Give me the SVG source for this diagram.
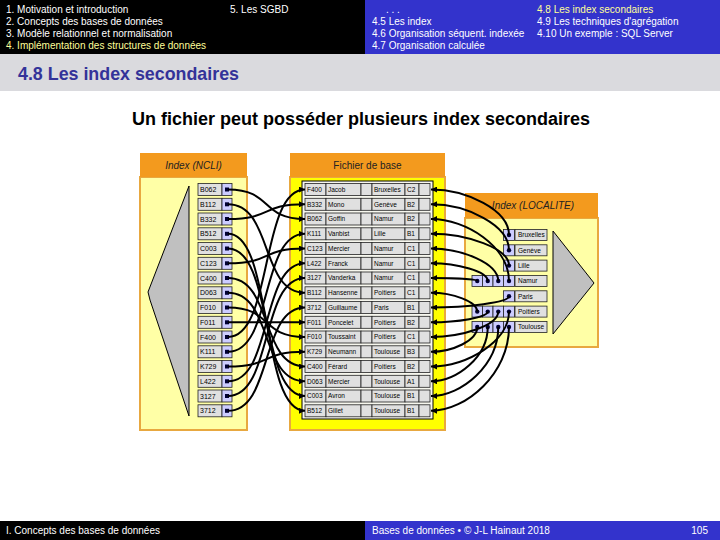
<svg xmlns="http://www.w3.org/2000/svg" xmlns:xlink="http://www.w3.org/1999/xlink" width="720" height="540" viewBox="0 0 720 540">
<style>
.hd{font-family:"Liberation Sans",Arial,sans-serif;font-size:10px;fill:#ffffff}
.hy{fill:#ffff99}
.ttl{font-family:"Liberation Sans Narrow","Liberation Sans",Arial,sans-serif;font-weight:bold}
.ph{font-family:"Liberation Sans",Arial,sans-serif;font-size:10px;fill:#222}
.it{font-style:italic}
.cell{fill:#e0e0e0;stroke:#222;stroke-width:0.8}
.ptr{fill:#ccccff;stroke:#222;stroke-width:0.8}
.tx{font-family:"Liberation Sans",Arial,sans-serif;font-size:6.5px;fill:#000}
.kx{font-family:"Liberation Sans",Arial,sans-serif;font-size:7px;fill:#000}
.con{fill:none;stroke:#000;stroke-width:2}
.dot{fill:#000033}
</style>
<defs>
<marker id="ah" viewBox="0 0 8 8" refX="8" refY="4" markerWidth="6" markerHeight="6" orient="auto" markerUnits="userSpaceOnUse"><path d="M0,0 L8,4 L0,8 z" fill="#000"/></marker>
<g id="rowcells">
<rect class="cell" x="305" y="-6" width="21" height="12"/>
<rect class="cell" x="326" y="-6" width="35" height="12"/>
<rect class="cell" x="361" y="-6" width="11" height="12"/>
<rect class="cell" x="372" y="-6" width="33" height="12"/>
<rect class="cell" x="405" y="-6" width="14" height="12"/>
<rect class="cell" x="419" y="-6" width="11" height="12"/>
</g>
<g id="ncells">
<rect class="cell" x="198" y="-6" width="24" height="12"/>
<rect class="ptr" x="222" y="-6" width="10" height="12"/>
<rect class="dot" x="225" y="-2" width="4" height="4"/>
</g>
<g id="p1"><rect class="ptr" x="503.5" y="-5.5" width="11" height="11"/><circle class="dot" cx="509" cy="0" r="2.2"/></g>
<g id="p4">
<rect class="ptr" x="472" y="-5.5" width="10.5" height="11"/><circle class="dot" cx="477.25" cy="0" r="2.2"/>
<rect class="ptr" x="482.5" y="-5.5" width="10.5" height="11"/><circle class="dot" cx="487.75" cy="0" r="2.2"/>
<rect class="ptr" x="493" y="-5.5" width="10.5" height="11"/><circle class="dot" cx="498.25" cy="0" r="2.2"/>
<rect class="ptr" x="503.5" y="-5.5" width="11" height="11"/><circle class="dot" cx="509" cy="0" r="2.2"/>
</g>
</defs>
<rect width="720" height="540" fill="#ffffff"/>
<g id="header">
<rect x="0" y="0" width="365" height="54" fill="#000"/>
<rect x="365" y="0" width="355" height="54" fill="#3333cc"/>
<text class="hd" x="6" y="13">1. Motivation et introduction</text>
<text class="hd" x="6" y="25">2. Concepts des bases de données</text>
<text class="hd" x="6" y="37">3. Modèle relationnel et normalisation</text>
<text class="hd hy" x="6" y="49">4. Implémentation des structures de données</text>
<text class="hd" x="230" y="13">5. Les SGBD</text>
<text class="hd" x="386" y="13">. . .</text>
<text class="hd" x="372" y="25">4.5 Les index</text>
<text class="hd" x="372" y="37">4.6 Organisation séquent. indexée</text>
<text class="hd" x="372" y="49">4.7 Organisation calculée</text>
<text class="hd hy" x="537" y="13">4.8 Les index secondaires</text>
<text class="hd" x="537" y="25">4.9 Les techniques d'agrégation</text>
<text class="hd" x="537" y="37">4.10 Un exemple : SQL Server</text>
<rect x="0" y="54" width="720" height="37" fill="#dadade"/>
<text class="ttl" x="18" y="80" font-size="19" fill="#333399" textLength="221" lengthAdjust="spacingAndGlyphs">4.8 Les index secondaires</text>
<text class="ttl" x="361" y="125" font-size="18" fill="#000" text-anchor="middle" textLength="458" lengthAdjust="spacingAndGlyphs">Un fichier peut posséder plusieurs index secondaires</text>
</g>
<g id="index-ncli">
<rect x="140" y="177" width="107" height="253" fill="#ffffa6" stroke="#e8a840" stroke-width="2"/>
<rect x="140" y="153" width="107" height="24" fill="#f39a1e"/>
<text class="ph it" x="193.5" y="169" text-anchor="middle">Index (NCLI)</text>
<polygon points="189,186 148,292 150,300 189,416" fill="#c0c0c0" stroke="#000" stroke-width="1"/>
<g transform="translate(0,189.5)"><use xlink:href="#ncells"/><text class="kx" x="200" y="2.5">B062</text></g>
<g transform="translate(0,204.3)"><use xlink:href="#ncells"/><text class="kx" x="200" y="2.5">B112</text></g>
<g transform="translate(0,219)"><use xlink:href="#ncells"/><text class="kx" x="200" y="2.5">B332</text></g>
<g transform="translate(0,233.8)"><use xlink:href="#ncells"/><text class="kx" x="200" y="2.5">B512</text></g>
<g transform="translate(0,248.5)"><use xlink:href="#ncells"/><text class="kx" x="200" y="2.5">C003</text></g>
<g transform="translate(0,263.3)"><use xlink:href="#ncells"/><text class="kx" x="200" y="2.5">C123</text></g>
<g transform="translate(0,278)"><use xlink:href="#ncells"/><text class="kx" x="200" y="2.5">C400</text></g>
<g transform="translate(0,292.8)"><use xlink:href="#ncells"/><text class="kx" x="200" y="2.5">D063</text></g>
<g transform="translate(0,307.5)"><use xlink:href="#ncells"/><text class="kx" x="200" y="2.5">F010</text></g>
<g transform="translate(0,322.3)"><use xlink:href="#ncells"/><text class="kx" x="200" y="2.5">F011</text></g>
<g transform="translate(0,337)"><use xlink:href="#ncells"/><text class="kx" x="200" y="2.5">F400</text></g>
<g transform="translate(0,351.8)"><use xlink:href="#ncells"/><text class="kx" x="200" y="2.5">K111</text></g>
<g transform="translate(0,366.5)"><use xlink:href="#ncells"/><text class="kx" x="200" y="2.5">K729</text></g>
<g transform="translate(0,381.3)"><use xlink:href="#ncells"/><text class="kx" x="200" y="2.5">L422</text></g>
<g transform="translate(0,396)"><use xlink:href="#ncells"/><text class="kx" x="200" y="2.5">3127</text></g>
<g transform="translate(0,410.8)"><use xlink:href="#ncells"/><text class="kx" x="200" y="2.5">3712</text></g>
</g>
<g id="fichier-base">
<rect x="290" y="177" width="155" height="253" fill="#ffff00" stroke="#e8a840" stroke-width="2"/>
<rect x="290" y="153" width="155" height="24" fill="#f39a1e"/>
<text class="ph" x="367.5" y="169" text-anchor="middle">Fichier de base</text>
<rect x="302" y="181" width="131" height="238" fill="#f7f7ee" stroke="#000" stroke-width="1"/>
<g transform="translate(0,189.5)"><use xlink:href="#rowcells"/><text class="tx" x="307" y="2.3">F400</text><text class="tx" x="328" y="2.3">Jacob</text><text class="tx" x="374" y="2.3">Bruxelles</text><text class="tx" x="407" y="2.3">C2</text></g>
<g transform="translate(0,204.3)"><use xlink:href="#rowcells"/><text class="tx" x="307" y="2.3">B332</text><text class="tx" x="328" y="2.3">Mono</text><text class="tx" x="374" y="2.3">Genève</text><text class="tx" x="407" y="2.3">B2</text></g>
<g transform="translate(0,219)"><use xlink:href="#rowcells"/><text class="tx" x="307" y="2.3">B062</text><text class="tx" x="328" y="2.3">Goffin</text><text class="tx" x="374" y="2.3">Namur</text><text class="tx" x="407" y="2.3">B2</text></g>
<g transform="translate(0,233.8)"><use xlink:href="#rowcells"/><text class="tx" x="307" y="2.3">K111</text><text class="tx" x="328" y="2.3">Vanbist</text><text class="tx" x="374" y="2.3">Lille</text><text class="tx" x="407" y="2.3">B1</text></g>
<g transform="translate(0,248.5)"><use xlink:href="#rowcells"/><text class="tx" x="307" y="2.3">C123</text><text class="tx" x="328" y="2.3">Mercier</text><text class="tx" x="374" y="2.3">Namur</text><text class="tx" x="407" y="2.3">C1</text></g>
<g transform="translate(0,263.3)"><use xlink:href="#rowcells"/><text class="tx" x="307" y="2.3">L422</text><text class="tx" x="328" y="2.3">Franck</text><text class="tx" x="374" y="2.3">Namur</text><text class="tx" x="407" y="2.3">C1</text></g>
<g transform="translate(0,278)"><use xlink:href="#rowcells"/><text class="tx" x="307" y="2.3">3127</text><text class="tx" x="328" y="2.3">Vanderka</text><text class="tx" x="374" y="2.3">Namur</text><text class="tx" x="407" y="2.3">C1</text></g>
<g transform="translate(0,292.8)"><use xlink:href="#rowcells"/><text class="tx" x="307" y="2.3">B112</text><text class="tx" x="328" y="2.3">Hansenne</text><text class="tx" x="374" y="2.3">Poitiers</text><text class="tx" x="407" y="2.3">C1</text></g>
<g transform="translate(0,307.5)"><use xlink:href="#rowcells"/><text class="tx" x="307" y="2.3">3712</text><text class="tx" x="328" y="2.3">Guillaume</text><text class="tx" x="374" y="2.3">Paris</text><text class="tx" x="407" y="2.3">B1</text></g>
<g transform="translate(0,322.3)"><use xlink:href="#rowcells"/><text class="tx" x="307" y="2.3">F011</text><text class="tx" x="328" y="2.3">Poncelet</text><text class="tx" x="374" y="2.3">Poitiers</text><text class="tx" x="407" y="2.3">B2</text></g>
<g transform="translate(0,337)"><use xlink:href="#rowcells"/><text class="tx" x="307" y="2.3">F010</text><text class="tx" x="328" y="2.3">Toussaint</text><text class="tx" x="374" y="2.3">Poitiers</text><text class="tx" x="407" y="2.3">C1</text></g>
<g transform="translate(0,351.8)"><use xlink:href="#rowcells"/><text class="tx" x="307" y="2.3">K729</text><text class="tx" x="328" y="2.3">Neumann</text><text class="tx" x="374" y="2.3">Toulouse</text><text class="tx" x="407" y="2.3">B3</text></g>
<g transform="translate(0,366.5)"><use xlink:href="#rowcells"/><text class="tx" x="307" y="2.3">C400</text><text class="tx" x="328" y="2.3">Férard</text><text class="tx" x="374" y="2.3">Poitiers</text><text class="tx" x="407" y="2.3">B2</text></g>
<g transform="translate(0,381.3)"><use xlink:href="#rowcells"/><text class="tx" x="307" y="2.3">D063</text><text class="tx" x="328" y="2.3">Mercier</text><text class="tx" x="374" y="2.3">Toulouse</text><text class="tx" x="407" y="2.3">A1</text></g>
<g transform="translate(0,396)"><use xlink:href="#rowcells"/><text class="tx" x="307" y="2.3">C003</text><text class="tx" x="328" y="2.3">Avron</text><text class="tx" x="374" y="2.3">Toulouse</text><text class="tx" x="407" y="2.3">B1</text></g>
<g transform="translate(0,410.8)"><use xlink:href="#rowcells"/><text class="tx" x="307" y="2.3">B512</text><text class="tx" x="328" y="2.3">Gillet</text><text class="tx" x="374" y="2.3">Toulouse</text><text class="tx" x="407" y="2.3">B1</text></g>
</g>
<g id="index-localite">
<rect x="465" y="218" width="133" height="129" fill="#ffffa6" stroke="#e8a840" stroke-width="2"/>
<rect x="465" y="193" width="133" height="25" fill="#f39a1e"/>
<text class="ph it" x="533" y="209" text-anchor="middle">Index (LOCALITE)</text>
<polygon points="553,231 594,283 553,334" fill="#c0c0c0" stroke="#000" stroke-width="1"/>
<g transform="translate(0,235)"><use xlink:href="#p1"/><rect class="cell" x="515" y="-5.5" width="32" height="11"/><text class="tx" x="518" y="2.3">Bruxelles</text></g>
<g transform="translate(0,250.3)"><use xlink:href="#p1"/><rect class="cell" x="515" y="-5.5" width="32" height="11"/><text class="tx" x="518" y="2.3">Genève</text></g>
<g transform="translate(0,265.6)"><use xlink:href="#p1"/><rect class="cell" x="515" y="-5.5" width="32" height="11"/><text class="tx" x="518" y="2.3">Lille</text></g>
<g transform="translate(0,281)"><use xlink:href="#p4"/><rect class="cell" x="515" y="-5.5" width="32" height="11"/><text class="tx" x="518" y="2.3">Namur</text></g>
<g transform="translate(0,296.3)"><use xlink:href="#p1"/><rect class="cell" x="515" y="-5.5" width="32" height="11"/><text class="tx" x="518" y="2.3">Paris</text></g>
<g transform="translate(0,311.6)"><use xlink:href="#p4"/><rect class="cell" x="515" y="-5.5" width="32" height="11"/><text class="tx" x="518" y="2.3">Poitiers</text></g>
<g transform="translate(0,327)"><use xlink:href="#p4"/><rect class="cell" x="515" y="-5.5" width="32" height="11"/><text class="tx" x="518" y="2.3">Toulouse</text></g>
</g>
<g id="connectors" marker-end="url(#ah)">
<path class="con" marker-end="url(#ah)" d="M228,189.5 C273,189.5 260,219 305,219"/>
<path class="con" marker-end="url(#ah)" d="M228,204.3 C273,204.3 260,292.8 305,292.8"/>
<path class="con" marker-end="url(#ah)" d="M228,219 C273,219 260,204.3 305,204.3"/>
<path class="con" marker-end="url(#ah)" d="M228,233.8 C273,233.8 260,410.8 305,410.8"/>
<path class="con" marker-end="url(#ah)" d="M228,248.5 C273,248.5 260,396 305,396"/>
<path class="con" marker-end="url(#ah)" d="M228,263.3 C273,263.3 260,248.5 305,248.5"/>
<path class="con" marker-end="url(#ah)" d="M228,278 C273,278 260,366.5 305,366.5"/>
<path class="con" marker-end="url(#ah)" d="M228,292.8 C273,292.8 260,381.3 305,381.3"/>
<path class="con" marker-end="url(#ah)" d="M228,307.5 C273,307.5 260,337 305,337"/>
<path class="con" marker-end="url(#ah)" d="M228,322.3 C273,322.3 260,322.3 305,322.3"/>
<path class="con" marker-end="url(#ah)" d="M228,337 C273,337 260,189.5 305,189.5"/>
<path class="con" marker-end="url(#ah)" d="M228,351.8 C273,351.8 260,233.8 305,233.8"/>
<path class="con" marker-end="url(#ah)" d="M228,366.5 C273,366.5 260,351.8 305,351.8"/>
<path class="con" marker-end="url(#ah)" d="M228,381.3 C273,381.3 260,263.3 305,263.3"/>
<path class="con" marker-end="url(#ah)" d="M228,396 C273,396 260,278 305,278"/>
<path class="con" marker-end="url(#ah)" d="M228,410.8 C273,410.8 260,307.5 305,307.5"/>
<path class="con" marker-end="url(#ah)" d="M509,235 C509,210 466.5,189.5 431,189.5"/>
<path class="con" marker-end="url(#ah)" d="M509,250.3 C509,225 466.5,204.3 431,204.3"/>
<path class="con" marker-end="url(#ah)" d="M509,265.6 C509,248.1 466.5,233.8 431,233.8"/>
<path class="con" marker-end="url(#ah)" d="M509,281 C509,246.9 466.5,219 431,219"/>
<path class="con" marker-end="url(#ah)" d="M498.25,281 C498.25,263.1 461.8,248.5 431,248.5"/>
<path class="con" marker-end="url(#ah)" d="M487.75,281 C487.75,271.3 457.1,263.3 431,263.3"/>
<path class="con" marker-end="url(#ah)" d="M477.25,281 C477.25,279.3 452.4,278 431,278"/>
<path class="con" marker-end="url(#ah)" d="M509,296.3 C509,302.5 466.5,307.5 431,307.5"/>
<path class="con" marker-end="url(#ah)" d="M477.25,311.6 C477.25,301.3 452.4,292.8 431,292.8"/>
<path class="con" marker-end="url(#ah)" d="M487.75,311.6 C487.75,317.5 457.1,322.3 431,322.3"/>
<path class="con" marker-end="url(#ah)" d="M498.25,311.6 C498.25,325.6 461.8,337 431,337"/>
<path class="con" marker-end="url(#ah)" d="M509,311.6 C509,341.8 466.5,366.5 431,366.5"/>
<path class="con" marker-end="url(#ah)" d="M477.25,327 C477.25,340.6 452.4,351.8 431,351.8"/>
<path class="con" marker-end="url(#ah)" d="M487.75,327 C487.75,356.9 457.1,381.3 431,381.3"/>
<path class="con" marker-end="url(#ah)" d="M498.25,327 C498.25,365 461.8,396 431,396"/>
<path class="con" marker-end="url(#ah)" d="M509,327 C509,373.1 466.5,410.8 431,410.8"/>
</g>
<g id="footer">
<rect x="0" y="521" width="365" height="19" fill="#000"/>
<rect x="365" y="521" width="355" height="19" fill="#3333cc"/>
<text class="hd" x="6" y="534">I. Concepts des bases de données</text>
<text class="hd" x="372" y="534">Bases de données • © J-L Hainaut 2018</text>
<text class="hd" x="708" y="534" text-anchor="end">105</text>
</g>
</svg>
